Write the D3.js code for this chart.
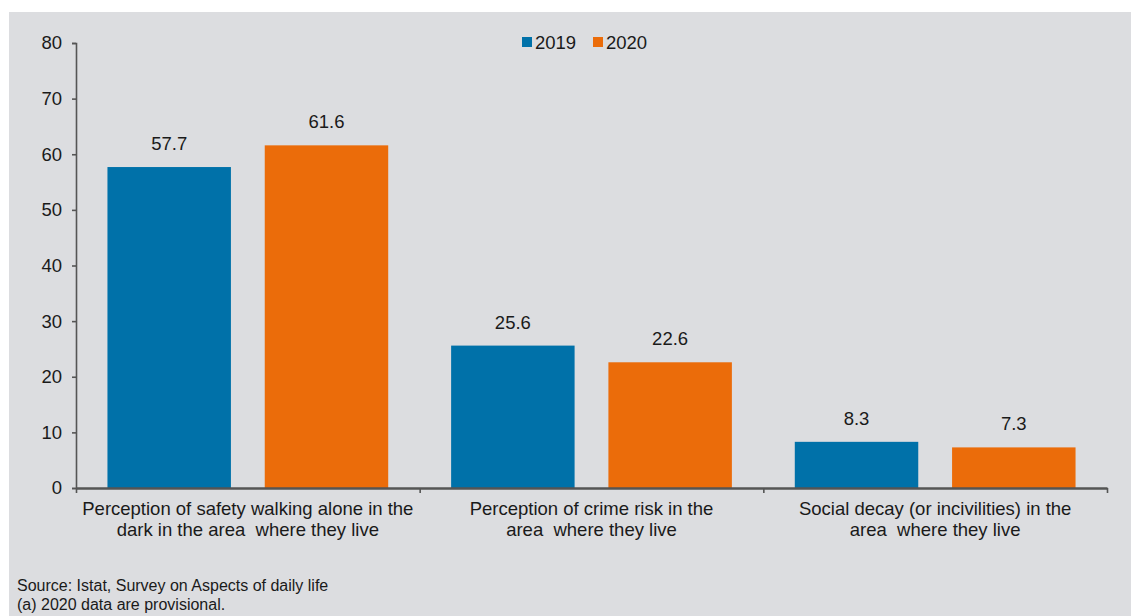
<!DOCTYPE html>
<html>
<head>
<meta charset="utf-8">
<script src="https://cdn.jsdelivr.net/npm/d3@7"></script>
<style>
  html, body { margin: 0; padding: 0; background: #ffffff; }
  svg { display: block; }
  text { font-family: "Liberation Sans", Arial, sans-serif; fill: #1a1a1a; white-space: pre; }
</style>
</head>
<body>
<svg id="chart" width="1131" height="616"></svg>
<script>
// Indicators (each label split in two lines)
const categories = [
  ["Perception of safety walking alone in the", "dark in the area  where they live"],
  ["Perception of crime risk in the", "area  where they live"],
  ["Social decay (or incivilities) in the", "area  where they live"]
];
const years = ["2019", "2020"];
const values2019 = [57.7, 25.6, 8.3];
const values2020 = [61.6, 22.6, 7.3];
const yTicks = [0, 10, 20, 30, 40, 50, 60, 70, 80];
const notes = ["Source: Istat, Survey on Aspects of daily life", "(a) 2020 data are provisional."];

const colors = { "2019": "#0071a9", "2020": "#eb6c0a" };
const FS = 18.5;

const svg = d3.select("#chart");

// Panel background
svg.append("rect")
  .attr("x", 9).attr("y", 12)
  .attr("width", 1131 - 9).attr("height", 616 - 12)
  .attr("fill", "#dcdde0");

const plot = { left: 76, right: 1107, top: 43, bottom: 488 };

const x0 = d3.scaleBand()
  .domain(d3.range(categories.length))
  .range([plot.left, plot.right])
  .padding(0);

const x1 = d3.scaleBand()
  .domain(years)
  .range([0, x0.bandwidth()])
  .paddingInner(0.215)
  .paddingOuter(0.2);

const y = d3.scaleLinear().domain([0, 80]).range([plot.bottom, plot.top]);

const series = { "2019": values2019, "2020": values2020 };

// Bars
const groups = svg.append("g").selectAll("g")
  .data(categories.map((c, i) => i))
  .join("g")
  .attr("transform", i => `translate(${x0(i)},0)`);

groups.selectAll("rect")
  .data(i => years.map(yr => ({ yr, v: series[yr][i] })))
  .join("rect")
  .attr("x", d => x1(d.yr))
  .attr("y", d => y(d.v))
  .attr("width", x1.bandwidth())
  .attr("height", d => y(0) - y(d.v))
  .attr("fill", d => colors[d.yr]);

groups.selectAll("text.val")
  .data(i => years.map(yr => ({ yr, v: series[yr][i] })))
  .join("text")
  .attr("class", "val")
  .attr("x", d => x1(d.yr) + x1.bandwidth() / 2)
  .attr("y", d => y(d.v) - 17)
  .attr("text-anchor", "middle")
  .attr("font-size", FS)
  .text(d => d.v.toFixed(1));

// Y axis
const yAxis = d3.axisLeft(y).tickValues(yTicks).tickSize(4).tickPadding(10).tickSizeOuter(4);
const gy = svg.append("g").attr("transform", `translate(${plot.left},0)`).call(yAxis);
gy.select(".domain").attr("stroke", "#555").attr("stroke-width", 1.6);
gy.selectAll(".tick line").attr("stroke", "#555").attr("stroke-width", 1.6);
gy.selectAll(".tick text")
  .attr("font-size", FS)
  .attr("font-family", "Liberation Sans, Arial, sans-serif")
  .attr("fill", "#1a1a1a");

// X axis baseline with category separators
const sepScale = d3.scaleLinear().domain([0, categories.length]).range([plot.left, plot.right]);
const gx = svg.append("g").attr("transform", `translate(0,${plot.bottom})`)
  .call(d3.axisBottom(sepScale).tickValues(d3.range(categories.length + 1)).tickSize(5).tickSizeOuter(0).tickFormat(""));
gx.select(".domain").attr("stroke", "#555").attr("stroke-width", 2.4);
gx.selectAll(".tick line").attr("stroke", "#555").attr("stroke-width", 1.6);

// Category labels
const catLabels = svg.append("g").selectAll("text")
  .data(categories)
  .join("text")
  .attr("text-anchor", "middle")
  .attr("font-size", FS)
  .attr("x", (d, i) => x0(i) + x0.bandwidth() / 2)
  .attr("y", 515);
catLabels.selectAll("tspan")
  .data(d => d)
  .join("tspan")
  .attr("x", function () { return this.parentNode.getAttribute("x"); })
  .attr("dy", (d, i) => i === 0 ? 0 : 21)
  .text(d => d);

// Legend
const legend = svg.append("g").attr("transform", "translate(522,37)");
const legendX = { "2019": 0, "2020": 71 };
years.forEach(yr => {
  const g = legend.append("g").attr("transform", `translate(${legendX[yr]},0)`);
  g.append("rect").attr("width", 10).attr("height", 10).attr("fill", colors[yr]);
  g.append("text").attr("x", 13).attr("y", 12).attr("font-size", FS).text(yr);
});

// Source notes
svg.append("g").attr("transform", "translate(17,0)")
  .selectAll("text")
  .data(notes)
  .join("text")
  .attr("x", 0)
  .attr("y", (d, i) => 591 + i * 18.5)
  .attr("font-size", 16)
  .attr("fill", "#333")
  .text(d => d);
</script>
</body>
</html>
